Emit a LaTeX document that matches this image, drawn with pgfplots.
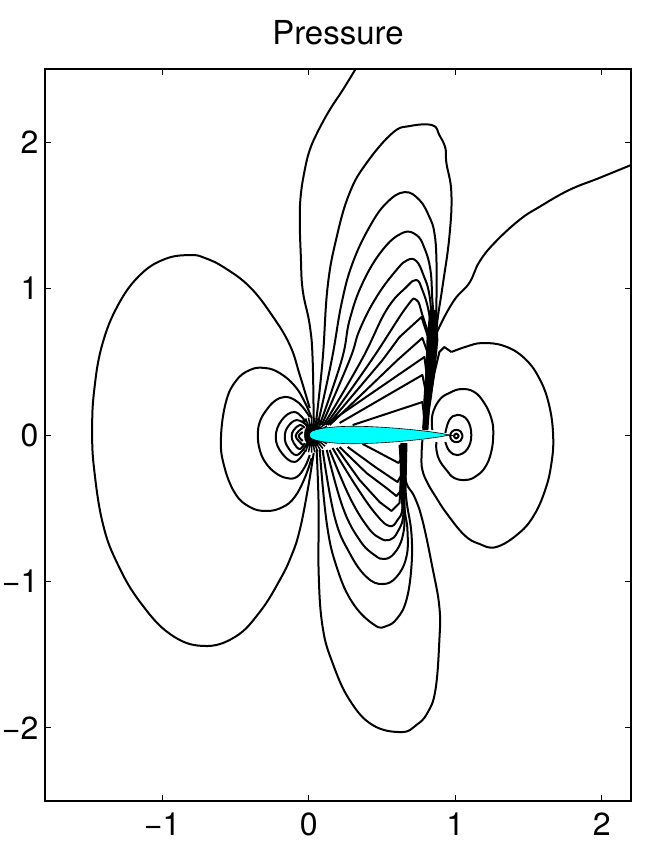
\documentclass[border=0pt]{standalone}
\usepackage{pgfplots}
\pgfplotsset{compat=1.18}
\usepackage{fontspec}
\setmainfont{TeX Gyre Heros}
\pgfplotsset{
  c/.style={black,line width=2pt,no markers,smooth,tension=0.7,line join=round},
  k/.style={black,line width=2pt,no markers,sharp plot,line join=round},
}
\begin{document}
\begin{tikzpicture}[x=1pt,y=1pt]
\useasboundingbox (-45,-40) rectangle (600,801);
\begin{axis}[
  at={(0,0)},anchor=south west,
  scale only axis,width=586pt,height=732pt,
  xmin=-1.8,xmax=2.2,ymin=-2.5,ymax=2.5,
  xtick={-1,0,1,2},xticklabels={−1\hspace{18pt},0,1,2},
  ytick={-2,-1,0,1,2},yticklabels={−2,−1,0,1,2},
  tick align=inside,
  major tick length=6pt,
  tick style={black,line width=0.7pt},
  axis line style={black,line width=1.1pt},
  tick label style={font=\fontsize{32}{38}\selectfont},
  xticklabel style={yshift=-8pt},
  yticklabel style={xshift=-3pt},
  title={Pressure},
  title style={font=\fontsize{33}{40}\selectfont,yshift=14pt},
]
% outer lobe, left of the nose
\addplot[c] coordinates {(0.007,0.184)(-0.061,0.410)(-0.129,0.615)(-0.252,0.820)(-0.402,1.011)(-0.572,1.141)(-0.708,1.209)(-0.810,1.229)(-0.981,1.202)(-1.151,1.093)(-1.301,0.888)(-1.410,0.615)(-1.464,0.307)(-1.478,0.034)(-1.464,-0.239)(-1.403,-0.615)(-1.301,-0.888)(-1.151,-1.141)(-0.947,-1.359)(-0.722,-1.441)(-0.504,-1.380)(-0.334,-1.209)(-0.197,-0.990)(-0.116,-0.820)(-0.061,-0.649)(-0.007,-0.376)(0.034,-0.123)};
% rings ahead of the nose
\addplot[c] coordinates {(0.020,0.116)(-0.027,0.225)(-0.095,0.335)(-0.198,0.423)(-0.300,0.458)(-0.402,0.444)(-0.497,0.369)(-0.565,0.225)(-0.599,-0.020)(-0.579,-0.205)(-0.504,-0.396)(-0.402,-0.492)(-0.286,-0.519)(-0.177,-0.492)(-0.095,-0.423)(-0.027,-0.294)(0.020,-0.157)};
\addplot[c] coordinates {(0.007,0.123)(-0.041,0.191)(-0.095,0.239)(-0.163,0.260)(-0.232,0.232)(-0.293,0.164)(-0.334,0.089)(-0.347,0)(-0.334,-0.102)(-0.293,-0.191)(-0.225,-0.260)(-0.150,-0.294)(-0.082,-0.287)(-0.027,-0.219)(0.007,-0.137)};
\addplot[c] coordinates {(-0.020,0.089)(-0.095,0.157)(-0.184,0.102)(-0.225,-0.014)(-0.184,-0.123)(-0.095,-0.184)(-0.020,-0.102)};
\addplot[c] coordinates {(-0.014,0.068)(-0.082,0.102)(-0.143,0.055)(-0.163,-0.014)(-0.143,-0.082)(-0.082,-0.137)(-0.014,-0.068)};
\addplot[c] coordinates {(-0.027,0.048)(-0.061,0.068)(-0.102,0.034)(-0.116,-0.007)(-0.102,-0.055)(-0.061,-0.096)(-0.027,-0.055)};
\addplot[c] coordinates {(-0.041,0.048)(-0.068,0.027)(-0.089,-0.007)(-0.068,-0.041)(-0.041,-0.068)};
\addplot[c] coordinates {(-0.041,0.02)(-0.068,-0.007)(-0.041,-0.041)};
% crowded contours round the nose: short spokes over a small dark core
\addplot[black,line width=1.5pt,no markers,sharp plot] coordinates {(0.02,0)(0.124,0.06)(0.02,0)(0.112,0.077)(0.02,0)(0.097,0.092)(0.02,0)(0.08,0.104)(0.02,0)(0.061,0.113)(0.02,0)(0.041,0.118)(0.02,0)(0.02,0.12)(0.02,0)(-0.001,0.118)(0.02,0)(-0.021,0.113)(0.02,0)(-0.04,0.104)(0.02,0)(0.124,-0.06)(0.02,0)(0.112,-0.077)(0.02,0)(0.097,-0.092)(0.02,0)(0.08,-0.104)(0.02,0)(0.061,-0.113)(0.02,0)(0.041,-0.118)(0.02,0)(0.02,-0.12)(0.02,0)(-0.001,-0.118)(0.02,0)(-0.021,-0.113)(0.02,0)(-0.04,-0.104)};
\addplot[fill=black,draw=black,line width=0.5pt,no markers,sharp plot,line join=round] coordinates {(0.055,0.07)(0.02,0.075)(-0.008,0.06)(-0.025,0.035)(-0.03,0)(-0.025,-0.035)(-0.008,-0.06)(0.02,-0.075)(0.055,-0.07)} --cycle;
% upper lobes
\addplot[c] coordinates {(0.034,0.068)(0.027,0.512)(0.007,0.751)(-0.041,0.990)(-0.054,1.229)(-0.061,1.468)(-0.054,1.639)(-0.027,1.81)(0.007,1.946)(0.061,2.07)(0.143,2.22)(0.232,2.356)(0.32,2.5)};
\addplot[c] coordinates {(0.048,0.068)(0.095,0.512)(0.129,1.011)(0.191,1.352)(0.279,1.653)(0.395,1.858)(0.572,2.063)(0.688,2.110)(0.844,2.116)(0.892,2.048)(0.933,1.960)(0.940,1.858)(0.974,1.653)(0.960,1.352)(0.913,1.011)(0.879,0.785)(0.865,0.615)(0.838,0.342)(0.804,0.048)};
\addplot[c] coordinates {(0.061,0.068)(0.157,0.512)(0.225,0.902)(0.300,1.175)(0.415,1.421)(0.531,1.585)(0.654,1.659)(0.756,1.605)(0.824,1.489)(0.858,1.380)(0.872,1.195)(0.872,0.874)(0.872,0.785)(0.858,0.615)(0.831,0.342)(0.797,0.048)};
\addplot[c] coordinates {(0.075,0.068)(0.225,0.512)(0.279,0.785)(0.368,1.038)(0.504,1.264)(0.640,1.380)(0.735,1.366)(0.790,1.277)(0.831,1.127)(0.844,0.922)(0.858,0.738)(0.851,0.615)(0.824,0.342)(0.790,0.048)};
\addplot[c] coordinates {(0.089,0.068)(0.279,0.512)(0.347,0.717)(0.463,0.943)(0.599,1.127)(0.674,1.195)(0.735,1.188)(0.783,1.093)(0.824,0.956)(0.844,0.717)(0.844,0.581)(0.817,0.342)(0.783,0.048)};
\addplot[c] coordinates {(0.102,0.068)(0.361,0.512)(0.531,0.854)(0.667,1.011)(0.735,1.059)(0.776,0.990)(0.817,0.854)(0.838,0.683)(0.831,0.546)(0.810,0.342)(0.790,0.068)};
\addplot[c] coordinates {(0.116,0.068)(0.429,0.512)(0.667,0.874)(0.735,0.922)(0.776,0.820)(0.831,0.615)(0.817,0.444)(0.804,0.239)(0.790,0.068)};
\addplot[k] coordinates {(0.129,0.068)(0.504,0.512)(0.620,0.669)(0.770,0.806)(0.810,0.683)(0.831,0.546)(0.810,0.307)(0.790,0.068)};
\addplot[k] coordinates {(0.143,0.068)(0.606,0.512)(0.776,0.663)(0.810,0.567)(0.817,0.444)(0.804,0.239)(0.790,0.048)};
\addplot[k] coordinates {(0.163,0.102)(0.790,0.533)(0.810,0.376)(0.790,0.048)};
\addplot[k] coordinates {(0.211,0.082)(0.776,0.410)(0.804,0.273)(0.783,0.048)};
\addplot[k] coordinates {(0.300,0.068)(0.776,0.225)(0.797,0.048)};
% contours crowded into the upper shock
\addplot[fill=black,draw=none,no markers] coordinates {(0.824,0.854)(0.804,0.649)(0.797,0.444)(0.783,0.239)(0.776,0.034)(0.804,0.034)(0.838,0.239)(0.865,0.444)(0.885,0.649)(0.872,0.854)} --cycle;
% open contour to the right edge
\addplot[c] coordinates {(2.2,1.844)(1.982,1.755)(1.777,1.673)(1.573,1.557)(1.437,1.468)(1.267,1.311)(1.164,1.181)(1.096,1.038)(0.994,0.922)(0.892,0.738)(0.872,0.662)(0.844,0.444)(0.817,0.205)(0.804,0.034)};
% right lobe
\addplot[k] coordinates {(0.810,0.034)(0.824,0.219)(0.858,0.423)(0.892,0.567)(0.926,0.601)(0.974,0.567)};
\addplot[c] coordinates {(0.974,0.567)(1.08,0.605)(1.185,0.628)(1.335,0.608)(1.471,0.526)(1.573,0.389)(1.641,0.205)(1.669,-0.014)(1.655,-0.205)(1.614,-0.376)(1.539,-0.546)(1.437,-0.669)(1.281,-0.765)(1.165,-0.744)(1.062,-0.683)(0.940,-0.533)(0.872,-0.430)(0.811,-0.328)(0.776,-0.239)(0.770,-0.150)(0.776,-0.034)};
% rings behind the tail
\addplot[c] coordinates {(0.844,0.034)(0.844,0.137)(0.892,0.239)(0.960,0.287)(1.042,0.314)(1.130,0.294)(1.198,0.219)(1.246,0.116)(1.260,0.014)(1.246,-0.116)(1.205,-0.219)(1.144,-0.280)(1.076,-0.307)(0.994,-0.294)(0.940,-0.239)(0.892,-0.171)(0.872,-0.102)(0.872,-0.048)};
\addplot[c] coordinates {(0.933,0.014)(0.960,0.102)(1.015,0.137)(1.083,0.102)(1.110,0)(1.083,-0.096)(1.015,-0.137)(0.960,-0.109)(0.933,-0.048)};
\addplot[c] coordinates {(1.050,-0.007)(1.038,0.023)(1.008,0.035)(0.978,0.023)(0.966,-0.007)(0.978,-0.037)(1.008,-0.049)(1.038,-0.037)(1.050,-0.007)};
\addplot[c] coordinates {(1.025,-0.007)(1.008,0.010)(0.991,-0.007)(1.008,-0.024)(1.025,-0.007)};
\addplot[black,line width=1pt,no markers] coordinates {(0.950,0)(1.0,-0.007)};
% lower lobes
\addplot[c] coordinates {(0.054,-0.102)(0.068,-0.492)(0.068,-0.943)(0.095,-1.311)(0.163,-1.557)(0.279,-1.810)(0.436,-1.981)(0.633,-2.029)(0.735,-1.981)(0.810,-1.899)(0.865,-1.742)(0.892,-1.400)(0.892,-1.175)(0.844,-0.902)(0.776,-0.581)(0.722,-0.423)(0.667,-0.328)(0.660,-0.205)(0.660,-0.068)};
\addplot[c] coordinates {(0.075,-0.102)(0.123,-0.601)(0.191,-0.902)(0.300,-1.147)(0.449,-1.298)(0.531,-1.305)(0.606,-1.250)(0.667,-1.127)(0.701,-0.902)(0.701,-0.669)(0.667,-0.444)(0.654,-0.239)(0.654,-0.068)};
\addplot[c] coordinates {(0.095,-0.102)(0.177,-0.560)(0.279,-0.806)(0.395,-0.970)(0.504,-1.018)(0.599,-0.970)(0.667,-0.833)(0.674,-0.649)(0.654,-0.492)(0.647,-0.239)(0.647,-0.068)};
\addplot[c] coordinates {(0.123,-0.102)(0.232,-0.492)(0.347,-0.717)(0.449,-0.820)(0.518,-0.847)(0.586,-0.806)(0.640,-0.697)(0.654,-0.533)(0.640,-0.239)(0.640,-0.068)};
\addplot[c] coordinates {(0.143,-0.102)(0.279,-0.423)(0.402,-0.628)(0.484,-0.703)(0.552,-0.717)(0.606,-0.663)(0.647,-0.533)(0.640,-0.239)(0.633,-0.068)};
\addplot[c] coordinates {(0.163,-0.089)(0.327,-0.355)(0.463,-0.546)(0.552,-0.622)(0.606,-0.581)(0.640,-0.492)(0.633,-0.239)(0.626,-0.068)};
\addplot[k] coordinates {(0.191,-0.089)(0.347,-0.307)(0.484,-0.458)(0.565,-0.519)(0.620,-0.464)(0.633,-0.239)(0.620,-0.068)};
\addplot[k] coordinates {(0.211,-0.082)(0.395,-0.260)(0.531,-0.362)(0.599,-0.417)(0.633,-0.376)(0.626,-0.068)};
\addplot[k] coordinates {(0.266,-0.082)(0.463,-0.225)(0.606,-0.321)(0.640,-0.260)(0.633,-0.068)};
\addplot[k] coordinates {(0.368,-0.061)(0.613,-0.191)(0.640,-0.150)(0.633,-0.068)};
% contours crowded into the lower shock
\addplot[fill=black,draw=none,no markers] coordinates {(0.626,-0.055)(0.674,-0.055)(0.667,-0.376)(0.650,-0.540)(0.640,-0.540)(0.620,-0.376)} --cycle;
% airfoil
\addplot[fill={rgb,1:red,0;green,1;blue,1},draw=black,line width=0.6pt,no markers,sharp plot,line join=round] coordinates {(0.005,0)(0.012,0.019)(0.025,0.027)(0.05,0.036)(0.1,0.047)(0.2,0.057)(0.3,0.06)(0.4,0.058)(0.5,0.053)(0.6,0.046)(0.7,0.037)(0.8,0.026)(0.9,0.012)(0.96,0)(0.9,-0.012)(0.8,-0.026)(0.7,-0.037)(0.6,-0.046)(0.5,-0.053)(0.4,-0.058)(0.3,-0.06)(0.2,-0.057)(0.1,-0.047)(0.05,-0.036)(0.025,-0.027)(0.012,-0.019)(0.005,0)} --cycle;
\end{axis}
\end{tikzpicture}
\end{document}
